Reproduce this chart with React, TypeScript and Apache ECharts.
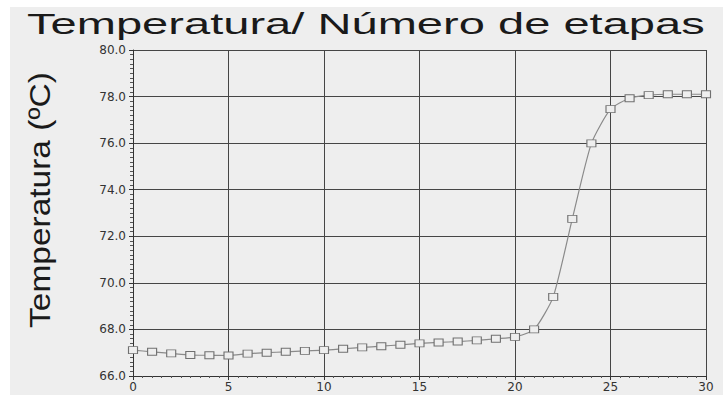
import React, { useEffect, useRef } from "react";
import * as echarts from "echarts";

const titleText = "Temperatura/ Número de etapas";
const yAxisTitle = "Temperatura (ºC)";
const stages = [0, 1, 2, 3, 4, 5, 6, 7, 8, 9, 10, 11, 12, 13, 14, 15, 16, 17, 18, 19, 20, 21, 22, 23, 24, 25, 26, 27, 28, 29, 30];
const temperatures = [67.11, 67.04, 66.97, 66.9, 66.89, 66.88, 66.96, 67.0, 67.04, 67.08, 67.11, 67.17, 67.23, 67.28, 67.34, 67.4, 67.44, 67.48, 67.53, 67.6, 67.68, 68.0, 69.4, 72.75, 75.99, 77.46, 77.93, 78.06, 78.1, 78.1, 78.1];
const xTicks = { min: 0, max: 30, interval: 5 };
const yTicks = { min: 66, max: 80, interval: 2 };

function measure(text: string, font: string): number {
  const c = document.createElement("canvas");
  const ctx = c.getContext("2d");
  if (!ctx) return text.length * 15;
  ctx.font = font;
  return ctx.measureText(text).width;
}

export default function App() {
  const ref = useRef<HTMLDivElement>(null);
  useEffect(() => {
    if (!ref.current) return;
    const chart = echarts.init(ref.current, undefined, { renderer: "svg" });
    const titleFont = 30;
    const titleW = measure(titleText, `${titleFont}px "Liberation Sans"`);
    const yFont = 30;
    const yW = measure(yAxisTitle, `${yFont}px "Liberation Sans"`);
    const gridC = "#454545";
    chart.setOption({
      animation: false,
      backgroundColor: "#ffffff",
      graphic: [
        {
          type: "rect",
          z: -100,
          silent: true,
          shape: { x: 10, y: 7, width: 713, height: 388 },
          style: { fill: "#eeeeee" },
        },
        {
          type: "text",
          x: 27,
          y: 23,
          scaleX: 678 / titleW,
          style: {
            text: titleText,
            font: `${titleFont}px "Liberation Sans"`,
            fill: "#1a1a1a",
            align: "left",
            verticalAlign: "middle",
          },
        },
        {
          type: "text",
          x: 40,
          y: 200,
          rotation: Math.PI / 2,
          scaleX: 256 / yW,
          style: {
            text: yAxisTitle,
            font: `${yFont}px "Liberation Sans"`,
            fill: "#1a1a1a",
            align: "center",
            verticalAlign: "middle",
          },
        },
      ],
      grid: { left: 133, right: 22, top: 50, bottom: 24, containLabel: false },
      xAxis: {
        type: "value",
        min: xTicks.min,
        max: xTicks.max,
        interval: xTicks.interval,
        axisLine: { lineStyle: { color: "#333", width: 1 } },
        axisTick: { show: true, length: 4, lineStyle: { color: "#333" } },
        minorTick: { show: true, splitNumber: 10, length: 2, lineStyle: { color: "#555" } },
        splitLine: { show: true, lineStyle: { color: gridC, width: 1 } },
        axisLabel: {
          margin: 5,
          fontFamily: "DejaVu Sans",
          fontSize: 12,
          color: "#333333",
        },
      },
      yAxis: {
        type: "value",
        min: yTicks.min,
        max: yTicks.max,
        interval: yTicks.interval,
        axisLine: { show: true, lineStyle: { color: "#333", width: 1 } },
        axisTick: { show: true, length: 4, lineStyle: { color: "#333" } },
        minorTick: { show: true, splitNumber: 10, length: 3, lineStyle: { color: "#555" } },
        splitLine: { show: true, lineStyle: { color: gridC, width: 1 } },
        axisLabel: {
          margin: 7,
          fontFamily: "DejaVu Sans",
          fontSize: 12,
          color: "#333333",
          formatter: (v: number) => v.toFixed(1),
        },
      },
      series: [
        {
          type: "line",
          data: stages.map((s, i) => [s, temperatures[i]]),
          smooth: 0.2,
          symbol: "rect",
          symbolSize: [9, 7],
          showAllSymbol: true,
          lineStyle: { color: "#8a8a8a", width: 1.2 },
          itemStyle: { color: "#eeeeee", borderColor: "#707070", borderWidth: 1 },
          z: 5,
        },
      ],
    });
    return () => chart.dispose();
  }, []);
  return (
    <div
      ref={ref}
      style={{ position: "fixed", left: 0, top: 0, width: 728, height: 400 }}
    />
  );
}
